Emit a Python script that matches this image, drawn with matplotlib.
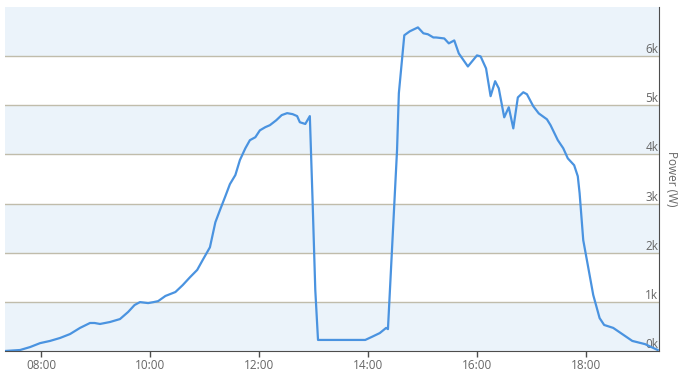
import matplotlib.pyplot as plt
from matplotlib.ticker import FuncFormatter

# sample times (HH:MM) and power in W
times = ['07:20', '07:37', '07:48', '07:59', '08:10', '08:21', '08:32', '08:43',
         '08:54', '08:59', '09:05', '09:16', '09:27', '09:36', '09:43', '09:49',
         '09:58', '10:04', '10:09', '10:17', '10:28', '10:36', '10:44', '10:52',
         '10:58', '11:06', '11:12', '11:17', '11:23', '11:28', '11:34', '11:39',
         '11:45', '11:50', '11:56', '12:01', '12:07', '12:12', '12:19', '12:25',
         '12:31', '12:37', '12:42', '12:45', '12:51', '12:56', '12:59', '13:02',
         '13:05', '13:57', '14:04', '14:13', '14:20', '14:22', '14:32', '14:34',
         '14:40', '14:46', '14:55', '15:01', '15:06', '15:12', '15:15', '15:24',
         '15:29', '15:35', '15:40', '15:50', '16:00', '16:04', '16:10', '16:15',
         '16:20', '16:24', '16:30', '16:35', '16:40', '16:45', '16:51', '16:55',
         '17:02', '17:08', '17:17', '17:21', '17:29', '17:35', '17:40', '17:47',
         '17:51', '17:53', '17:57', '18:02', '18:08', '18:15', '18:20', '18:30',
         '18:51', '19:05', '19:19']
power = [0, 20, 80, 160, 205, 265, 345, 470,
         570, 570, 550, 590, 650, 795, 935, 995,
         975, 995, 1015, 1120, 1200, 1340, 1500, 1650,
         1850, 2110, 2620, 2865, 3150, 3395, 3580, 3885,
         4125, 4290, 4350, 4490, 4555, 4595, 4695, 4800,
         4840, 4820, 4780, 4655, 4620, 4780, 3070, 1240,
         225, 225, 285, 365, 470, 445, 4085, 5245,
         6425, 6505, 6585, 6465, 6445, 6380, 6380, 6360,
         6260, 6320, 6055, 5790, 6015, 5995, 5750, 5185,
         5490, 5345, 4755, 4960, 4530, 5160, 5265, 5225,
         4980, 4835, 4715, 4595, 4290, 4125, 3920, 3780,
         3555, 3210, 2255, 1750, 1140, 670, 530, 470,
         205, 140, 20]

y_ticks = [0, 1000, 2000, 3000, 4000, 5000, 6000]
x_ticks = [8, 10, 12, 14, 16, 18]

LINE_COLOR = '#4a93e0'
BAND_COLOR = '#ebf3fa'
GRID_COLOR = '#c0bcab'
TEXT_COLOR = '#666666'
AXIS_COLOR = '#4d4d4d'

def to_hours(t):
    h, m = t.split(':')
    return int(h) + int(m) / 60.0

if __name__ == '__main__':
    plt.rcParams['font.family'] = ['Open Sans', 'DejaVu Sans']

    hours = [to_hours(t) for t in times]

    fig = plt.figure(figsize=(6.8, 3.74), dpi=100)
    ax = fig.add_axes([5 / 680, 23 / 374, 654 / 680, 344 / 374])

    # alternating bands, light blue every other 1k
    for lo in range(0, 7000, 2000):
        ax.axhspan(lo, lo + 1000, color=BAND_COLOR, lw=0, zorder=0)
    for v in y_ticks[1:]:
        ax.axhline(v, color=GRID_COLOR, lw=1, zorder=1)

    ax.plot(hours, power, color=LINE_COLOR, lw=1.6, zorder=3,
            solid_joinstyle='round')

    ax.set_xlim(7.34, 19.34)
    ax.set_ylim(0, 7000)

    ax.set_xticks(x_ticks)
    ax.xaxis.set_major_formatter(FuncFormatter(lambda v, p: f'{int(v):02d}:00'))
    ax.tick_params(axis='x', length=4, width=1, color=AXIS_COLOR,
                   labelcolor=TEXT_COLOR, labelsize=8.5, pad=2)

    ax.yaxis.tick_right()
    ax.set_yticks(y_ticks)
    ax.yaxis.set_major_formatter(FuncFormatter(lambda v, p: f'{int(v / 1000)}k'))
    ax.tick_params(axis='y', length=0, pad=-0.5, labelcolor=TEXT_COLOR,
                   labelsize=8.5)
    for lbl in ax.get_yticklabels():
        lbl.set_horizontalalignment('right')
        lbl.set_verticalalignment('bottom')

    ax.yaxis.set_label_position('right')
    ax.set_ylabel('Power (W)', rotation=270, color=TEXT_COLOR, fontsize=8.5,
                  va='center')
    ax.yaxis.set_label_coords(1.019, 0.5)

    for side in ['left', 'top']:
        ax.spines[side].set_visible(False)
    ax.spines['bottom'].set_color(AXIS_COLOR)
    ax.spines['right'].set_color(AXIS_COLOR)
    ax.spines['bottom'].set_zorder(4)

    fig.savefig('out.png', dpi=100)
